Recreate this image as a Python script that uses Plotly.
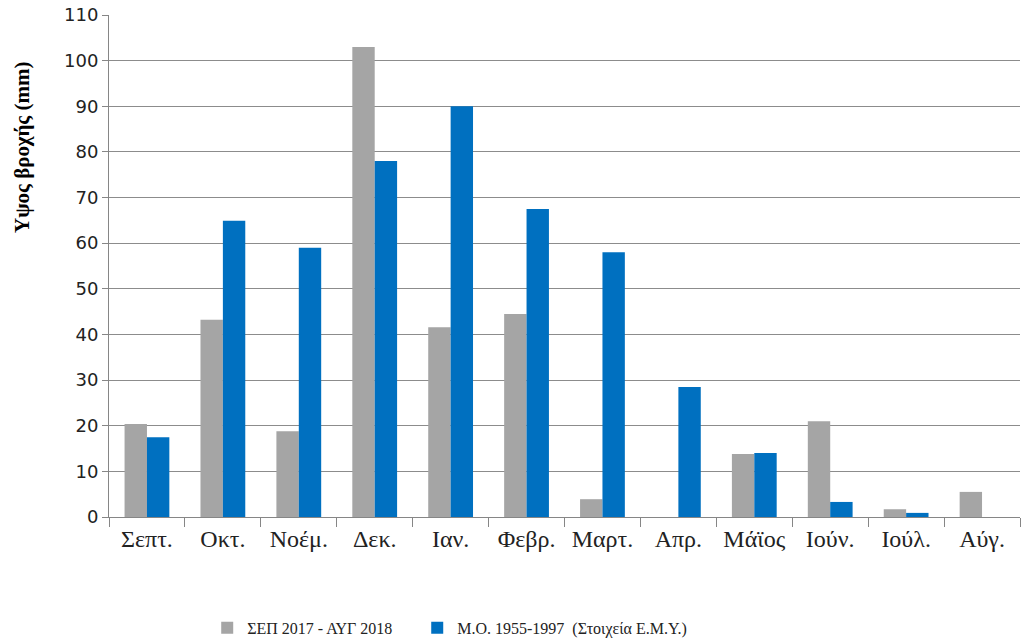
import plotly.graph_objects as go

months = ["Σεπτ.", "Οκτ.", "Νοέμ.", "Δεκ.", "Ιαν.", "Φεβρ.", "Μαρτ.", "Απρ.", "Μάϊος", "Ιούν.", "Ιούλ.", "Αύγ."]
rain_2017_18 = [20.4, 43.2, 18.8, 103.0, 41.6, 44.5, 3.9, 0.0, 13.8, 21.0, 1.7, 5.5]
rain_mean = [17.5, 64.9, 59.0, 78.0, 90.0, 67.5, 58.0, 28.5, 14.0, 3.3, 0.9, 0.0]
y_ticks = list(range(0, 111, 10))

fig = go.Figure()
fig.add_trace(go.Bar(x=months, y=rain_2017_18, name="ΣΕΠ 2017 - ΑΥΓ 2018" + "\u00a0" * 5,
                     marker=dict(color="#A5A5A5", line=dict(width=0))))
fig.add_trace(go.Bar(x=months, y=rain_mean, name="Μ.Ο. 1955-1997  (Στοιχεία Ε.Μ.Υ.)",
                     marker=dict(color="#0070C0", line=dict(width=0))))

fig.update_layout(
    width=1025, height=644,
    paper_bgcolor="white", plot_bgcolor="white",
    margin=dict(l=109, r=5, t=15, b=127, autoexpand=False),
    barmode="group", bargap=0.41, bargroupgap=0,
    showlegend=True,
    legend=dict(orientation="h", x=0.374, xanchor="center", y=-0.221, yanchor="middle",
                font=dict(family="Liberation Serif", size=16, color="#222"),
                itemwidth=30, traceorder="normal"),
    annotations=[dict(text="<b>Υψος βροχής (mm)</b>", textangle=-90,
                      xref="paper", yref="paper", x=-0.0955, y=0.737,
                      xanchor="center", yanchor="middle", showarrow=False,
                      font=dict(family="Liberation Serif", size=21, color="black"))],
)
fig.update_xaxes(type="category", tickson="boundaries", ticks="outside", ticklen=9,
                 tickcolor="#868686", showline=True, linecolor="#868686", linewidth=1,
                 tickfont=dict(family="Liberation Serif", size=24, color="#222"),
                 tickangle=0, showgrid=False, automargin=False)
fig.update_yaxes(range=[0, 110], tickvals=y_ticks, ticks="outside", ticklen=6,
                 tickcolor="#868686", showline=True, linecolor="#868686", linewidth=1,
                 showgrid=True, gridcolor="#8c8c8c", gridwidth=1,
                 tickfont=dict(family="DejaVu Sans", size=18, color="#222"),
                 zeroline=False, automargin=False)

fig.write_html("out.html", config={"displayModeBar": False},
               post_script="document.body.style.margin='0';document.body.style.overflow='hidden';")
